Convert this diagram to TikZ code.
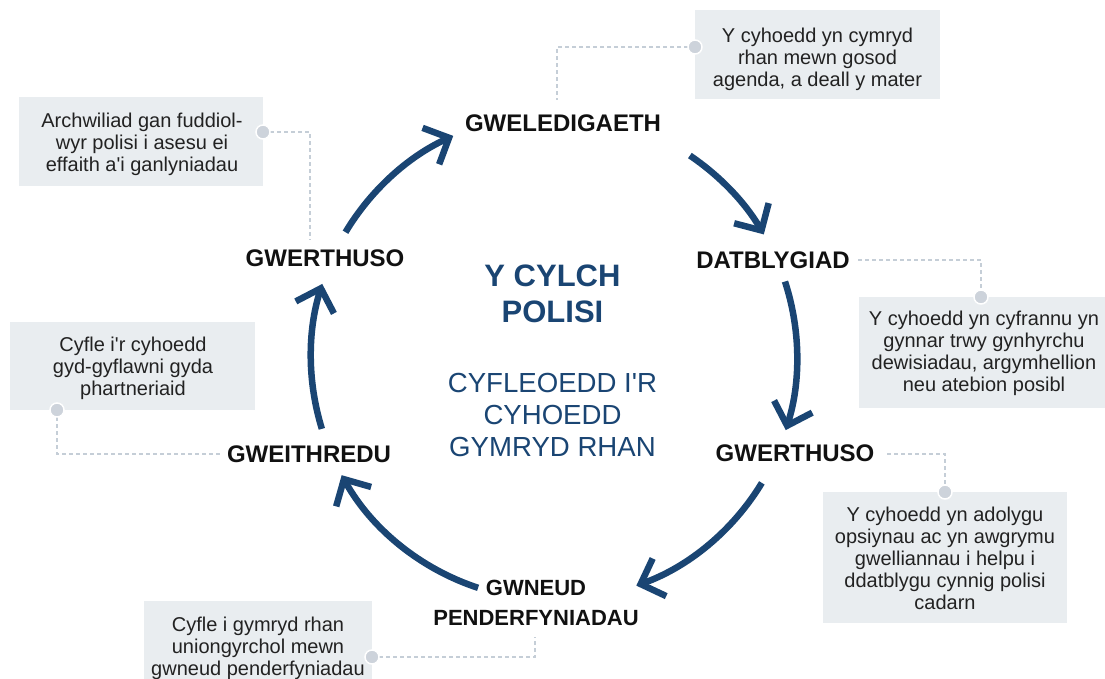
\documentclass[tikz,border=0pt]{standalone}
\usepackage{fontspec}
\setmainfont{Liberation Sans}[Ligatures=TeXOff]
\usetikzlibrary{arrows.meta}
\definecolor{cycblue}{HTML}{1A4573}
\definecolor{boxfill}{HTML}{E9EDF0}
\definecolor{dashcol}{HTML}{C5CED7}
\definecolor{dotcol}{HTML}{CDD3DB}
\definecolor{labcol}{HTML}{111111}
\definecolor{txtcol}{HTML}{222222}
\begin{document}
\begin{tikzpicture}[x=1pt,y=-1pt,
  stage/.style={font=\fontsize{24}{30}\selectfont\bfseries, text=labcol, inner sep=0pt, anchor=base},
  stagetwo/.style={font=\fontsize{22}{30}\selectfont\bfseries, text=labcol, inner sep=0pt, anchor=north, align=center},
  infobox/.style={fill=boxfill, draw=none, inner sep=0pt, anchor=north west},
  infotext/.style={font=\fontsize{20}{22}\selectfont, align=center, inner sep=0pt, anchor=north, text=txtcol},
  cycarrow/.style={draw=cycblue, line width=6.5pt, line cap=butt, -{Straight Barb[length=20pt,width=40pt]}},
  leader/.style={draw=dashcol, line width=1.3pt, dash pattern=on 4pt off 3pt},
  knob/.style={circle, fill=dotcol, draw=white, line width=1.5pt, minimum size=14pt, inner sep=0pt}]

\useasboundingbox (0,0) rectangle (1105,678);

% info boxes
\node[infobox, minimum width=245pt, minimum height=89pt] (bA) at (695,10) {};
\node[infobox, minimum width=244pt, minimum height=89pt] (bB) at (19,97) {};
\node[infobox, minimum width=250pt, minimum height=111pt] (bC) at (859,297) {};
\node[infobox, minimum width=244pt, minimum height=131pt] (bD) at (823,492) {};
\node[infobox, minimum width=228pt, minimum height=80pt] (bE) at (144,601) {};
\node[infobox, minimum width=245pt, minimum height=88pt] (bF) at (10,322) {};

\node[infotext] (tA) at (817.5,28) {Y cyhoedd yn cymryd\\rhan mewn gosod\\agenda, a deall y mater};
\node[infotext] (tB) at (142,113) {Archwiliad gan fuddiol-\\wyr polisi i asesu ei\\effaith a'i ganlyniadau};
\node[infotext] (tC) at (984,311) {Y cyhoedd yn cyfrannu yn\\gynnar trwy gynhyrchu\\dewisiadau, argymhellion\\neu atebion posibl};
\node[infotext] (tD) at (945,507) {Y cyhoedd yn adolygu\\opsiynau ac yn awgrymu\\gwelliannau i helpu i\\ddatblygu cynnig polisi\\cadarn};
\node[infotext] (tE) at (258,617) {Cyfle i gymryd rhan\\uniongyrchol mewn\\gwneud penderfyniadau};
\node[infotext] (tF) at (133,337) {Cyfle i'r cyhoedd\\gyd-gyflawni gyda\\phartneriaid};

% stage labels
\node[stage] (sGwel) at (563,131.6) {GWELEDIGAETH};
\node[stage] (sDat) at (773,268.6) {DATBLYGIAD};
\node[stage] (sGwR) at (795,461.6) {GWERTHUSO};
\node[stagetwo] (sGwn) at (536,580) {GWNEUD\\PENDERFYNIADAU};
\node[stage] (sGwei) at (309,462.6) {GWEITHREDU};
\node[stage] (sGwL) at (325,266.6) {GWERTHUSO};

% centre
\node[font=\fontsize{31}{36}\selectfont\bfseries, text=cycblue, align=center, anchor=north, inner sep=0pt] (title) at (552.5,265) {Y CYLCH\\POLISI};
\node[font=\fontsize{27.6}{32}\selectfont, text=cycblue, align=center, anchor=north, inner sep=0pt] (sub) at (552.5,373) {CYFLEOEDD I'R\\CYHOEDD\\GYMRYD RHAN};

% cycle arrows
\coordinate (cc) at (554,357);
\draw[cycarrow] (cc) ++(149.1:243pt) arc[start angle=149.1, end angle=114.5, radius=243pt];
\draw[cycarrow] (cc) ++(56:243pt) arc[start angle=56, end angle=30.3, radius=243pt];
\draw[cycarrow] (cc) ++(18.1:243pt) arc[start angle=18.1, end angle=-17.5, radius=243pt];
\draw[cycarrow] (cc) ++(-31.2:243pt) arc[start angle=-31.2, end angle=-70.2, radius=243pt];
\draw[cycarrow] (cc) ++(251.8:243pt) arc[start angle=251.8, end angle=209.1, radius=243pt];
\draw[cycarrow] (cc) ++(197.2:243pt) arc[start angle=197.2, end angle=162.5, radius=243pt];

% leader lines
\coordinate (dA) at (695,47);   \coordinate (eA) at (557,100);
\coordinate (dB) at (263,132);  \coordinate (eB) at (310,240);
\coordinate (dC) at (981,297);  \coordinate (eC) at (858,260);
\coordinate (dD) at (945,492);  \coordinate (eD) at (887,454);
\coordinate (dE) at (372,657);  \coordinate (eE) at (535,637);
\coordinate (dF) at (57,410);   \coordinate (eF) at (220,454);

\draw[leader] (dA) -| (eA);
\draw[leader] (dB) -| (eB);
\draw[leader] (eC) -| (dC);
\draw[leader] (eD) -| (dD);
\draw[leader] (dE) -| (eE);
\draw[leader] (dF) |- (eF);

\node[knob] (kA) at (dA) {};
\node[knob] (kB) at (dB) {};
\node[knob] (kC) at (dC) {};
\node[knob] (kD) at (dD) {};
\node[knob] (kE) at (dE) {};
\node[knob] (kF) at (dF) {};
\end{tikzpicture}
\end{document}
